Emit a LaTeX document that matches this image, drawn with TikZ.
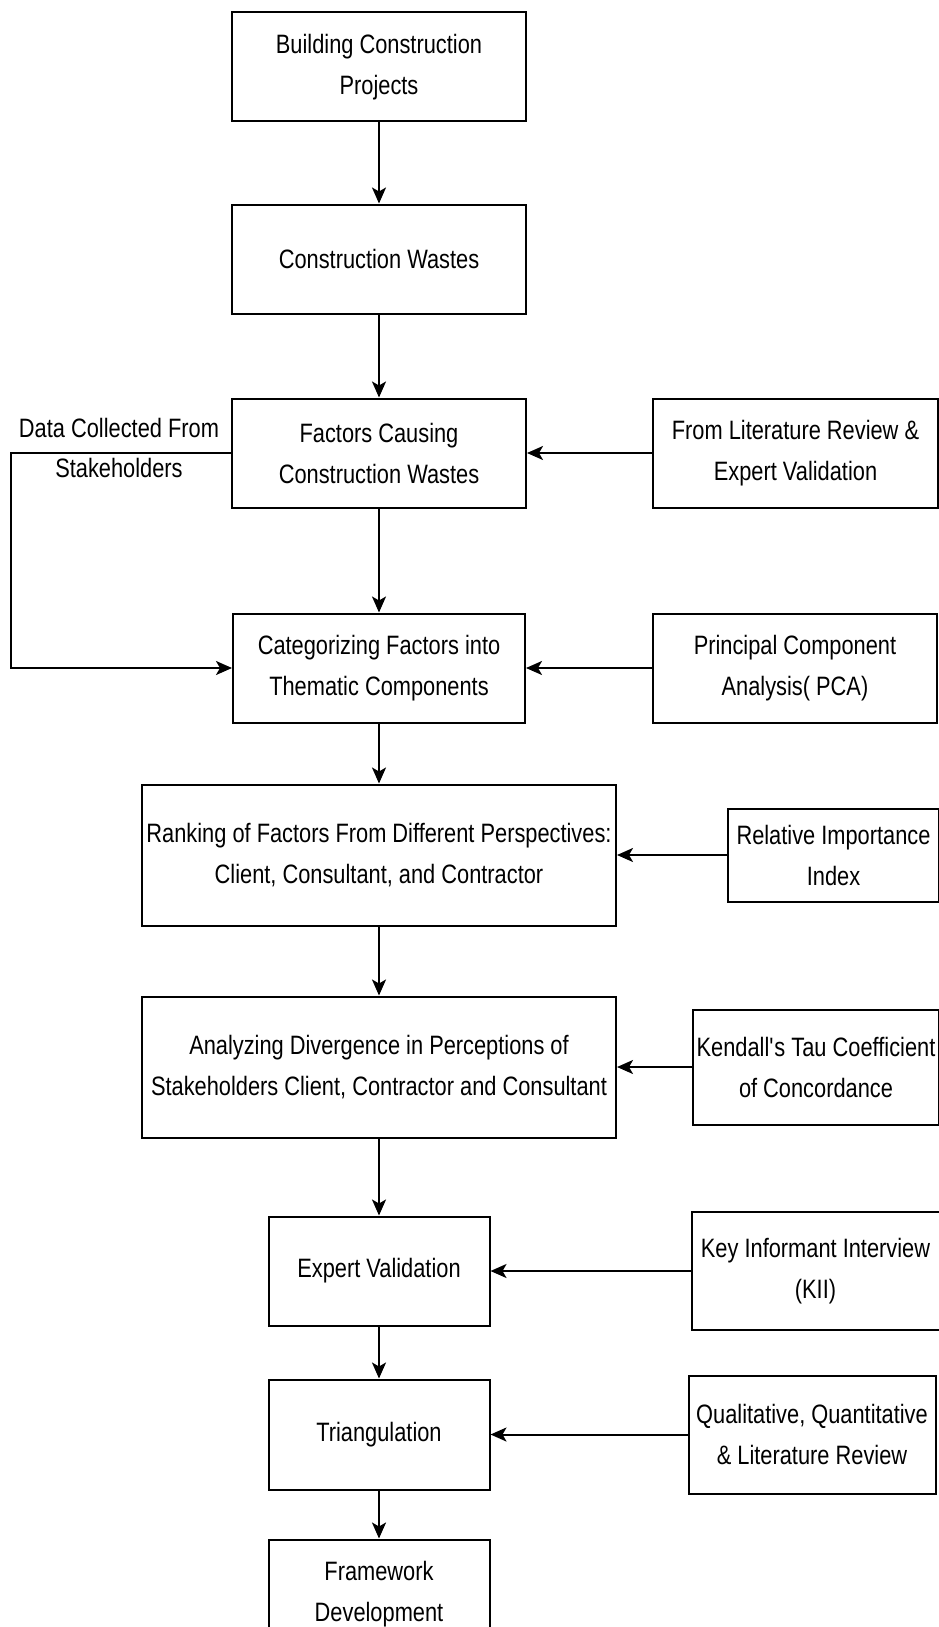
\documentclass[tikz,border=0pt]{standalone}
\usepackage{fontspec}
\setmainfont[FakeStretch=0.82]{Liberation Sans}
\usetikzlibrary{positioning,arrows.meta}

\begin{document}
\begin{tikzpicture}[x=1pt,y=1pt,
  blk/.style={draw,line width=2pt,align=center,inner sep=0pt,
    font=\fontsize{26.6}{41}\selectfont,minimum width=294pt,minimum height=109pt},
  flow/.style={-{Stealth[length=16pt,width=14pt,inset=4pt]},line width=2pt}]
\useasboundingbox (0,0) rectangle (938,-1627);
% main column
\node[blk](proj) at (379,-67){Building Construction\\Projects};
\node[blk,below=81pt of proj](waste){Construction Wastes};
\node[blk,below=83pt of waste](factors){Factors Causing\\Construction Wastes};
\node[blk,minimum width=292pt,below=104pt of factors](categ){Categorizing Factors into\\Thematic Components};
\node[blk,minimum width=474pt,minimum height=141pt,below=60pt of categ](rank){Ranking of Factors From Different Perspectives:\\Client, Consultant, and Contractor};
\node[blk,minimum width=474pt,minimum height=141pt,below=69pt of rank](diverg){Analyzing Divergence in Perceptions of\\Stakeholders Client, Contractor and Consultant};
\node[blk,minimum width=221pt,below=77pt of diverg](expert){Expert Validation};
\node[blk,minimum width=221pt,minimum height=110pt,below=52pt of expert](triang){Triangulation};
\node[blk,minimum width=221pt,minimum height=110pt,below=48pt of triang](frame){Framework\\Development};
% inputs on the right
\node[blk,minimum width=285pt,right=125pt of factors](lit){From Literature Review \&\\Expert Validation};
\node[blk,minimum width=284pt,right=126pt of categ](pca){Principal Component\\Analysis( PCA)};
\node[blk,minimum width=211pt,minimum height=93pt,right=110pt of rank](rii){Relative Importance\\Index};
\node[blk,minimum width=246pt,minimum height=115pt,right=75pt of diverg](ktc){Kendall\textquotesingle s Tau Coefficient\\of Concordance};
\node[blk,minimum width=248pt,minimum height=118pt,right=200pt of expert](kii){Key Informant Interview\\(KII)};
\node[blk,minimum width=247pt,minimum height=118pt,right=197pt of triang](qual){Qualitative, Quantitative\\\& Literature Review};
% stakeholder data
\node[align=center,font=\fontsize{26.6}{40}\selectfont](data) at (119,-448){Data Collected From\\Stakeholders};

\draw[flow](proj)--(waste);
\draw[flow](waste)--(factors);
\draw[flow](factors)--(categ);
\draw[flow](categ)--(rank);
\draw[flow](rank)--(diverg);
\draw[flow](diverg)--(expert);
\draw[flow](expert)--(triang);
\draw[flow](triang)--(frame);
\draw[flow](lit)--(factors);
\draw[flow](pca)--(categ);
\draw[flow](rii)--(rank);
\draw[flow](ktc)--(diverg);
\draw[flow](kii)--(expert);
\draw[flow](qual)--(triang);
\draw[flow](factors.west)--++(-220,0)|-(categ.west);
\end{tikzpicture}
\end{document}
